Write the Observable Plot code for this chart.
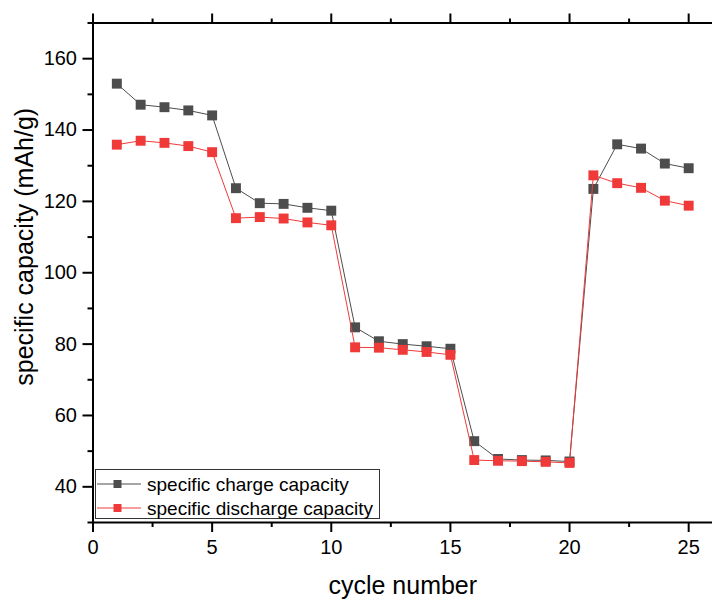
<!DOCTYPE html>
<html>
<head>
<meta charset="utf-8">
<script src="https://cdn.jsdelivr.net/npm/d3@7"></script>
<script src="https://cdn.jsdelivr.net/npm/@observablehq/plot@0.6"></script>
<style>
  html, body { margin: 0; padding: 0; background: #fff; }
  #chart { position: relative; width: 712px; height: 599px; }
</style>
</head>
<body>
<div id="chart"></div>
<script>
const cycles = [1,2,3,4,5,6,7,8,9,10,11,12,13,14,15,16,17,18,19,20,21,22,23,24,25];
const chargeCapacity = [153.0,147.1,146.4,145.5,144.1,123.7,119.5,119.3,118.2,117.4,84.7,80.8,80.0,79.4,78.7,52.8,47.8,47.5,47.4,47.1,123.5,136.0,134.8,130.6,129.3];
const dischargeCapacity = [135.9,137.0,136.4,135.5,133.8,115.3,115.6,115.2,114.1,113.3,79.1,79.0,78.4,77.8,77.0,47.5,47.3,47.2,47.0,46.7,127.3,125.1,123.8,120.2,118.8];
const seriesNames = ["specific charge capacity", "specific discharge capacity"];
const seriesColors = ["#4d4d4d", "#f03a3a"];
const xMajorTicks = [0,5,10,15,20,25];
const xMinorTicks = [2.5,7.5,12.5,17.5,22.5];
const yMajorTicks = [40,60,80,100,120,140,160];
const yMinorTicks = [30,50,70,90,110,130,150,170];
const xTitle = "cycle number";
const yTitle = "specific capacity (mAh/g)";

const charge = cycles.map((c, i) => ({cycle: c, value: chargeCapacity[i]}));
const discharge = cycles.map((c, i) => ({cycle: c, value: dischargeCapacity[i]}));
const blank = () => "";

const plot = Plot.plot({
  width: 712,
  height: 599,
  marginLeft: 92.5,
  marginTop: 22.5,
  marginBottom: 77,
  marginRight: 0,
  style: {fontFamily: "'Liberation Sans', Arial, sans-serif", color: "#000", background: "#fff", overflow: "visible"},
  x: {domain: [0, 26]},
  y: {domain: [30, 170]},
  marks: [
    Plot.axisX({ticks: xMajorTicks, tickSize: 10, tickPadding: 7, fontSize: 20, strokeWidth: 2, label: null}),
    Plot.axisX({ticks: xMinorTicks, tickSize: 5, tickFormat: blank, strokeWidth: 2, label: null}),
    Plot.axisX({anchor: "top", ticks: xMajorTicks, tickSize: 10, tickFormat: blank, strokeWidth: 2, label: null}),
    Plot.axisX({anchor: "top", ticks: xMinorTicks, tickSize: 5, tickFormat: blank, strokeWidth: 2, label: null}),
    Plot.axisY({ticks: yMajorTicks, tickSize: 10, tickPadding: 6, fontSize: 20, strokeWidth: 2, label: null}),
    Plot.axisY({ticks: yMinorTicks, tickSize: 5, tickFormat: blank, strokeWidth: 2, label: null}),
    Plot.ruleX([0], {stroke: "#000", strokeWidth: 2}),
    Plot.ruleY([30, 170], {stroke: "#000", strokeWidth: 2}),
    Plot.text([xTitle], {frameAnchor: "bottom", dy: 71, fontSize: 25, fill: "#000"}),
    Plot.text([yTitle], {frameAnchor: "left", textAnchor: "middle", lineAnchor: "middle", rotate: -90, dx: -68, dy: -26, fontSize: 25, fill: "#000"}),
    Plot.line(charge, {x: "cycle", y: "value", stroke: seriesColors[0], strokeWidth: 1}),
    Plot.dot(charge, {x: "cycle", y: "value", symbol: "square", r: 5.6, fill: seriesColors[0], stroke: "none"}),
    Plot.line(discharge, {x: "cycle", y: "value", stroke: seriesColors[1], strokeWidth: 1}),
    Plot.dot(discharge, {x: "cycle", y: "value", symbol: "square", r: 5.6, fill: seriesColors[1], stroke: "none"})
  ]
});
document.getElementById("chart").appendChild(plot);

// Legend box (annotation) appended into the plot's SVG
const svg = d3.select(plot);
const lg = svg.append("g").attr("font-family", "'Liberation Sans', Arial, sans-serif").attr("text-anchor", "start");
lg.append("rect").attr("x", 95.5).attr("y", 469.5).attr("width", 284).attr("height", 49)
  .attr("fill", "#fff").attr("stroke", "#333").attr("stroke-width", 1);
seriesNames.forEach((name, i) => {
  const cy = 484 + i * 24;
  lg.append("line").attr("x1", 97).attr("x2", 141).attr("y1", cy).attr("y2", cy)
    .attr("stroke", seriesColors[i]).attr("stroke-width", 1);
  lg.append("rect").attr("x", 113.5).attr("y", cy - 4).attr("width", 8).attr("height", 8)
    .attr("fill", seriesColors[i]);
  lg.append("text").attr("x", 147).attr("y", cy).attr("dy", "0.35em").attr("text-anchor", "start")
    .attr("font-size", 19).attr("fill", "#000").text(name);
});
</script>
</body>
</html>
